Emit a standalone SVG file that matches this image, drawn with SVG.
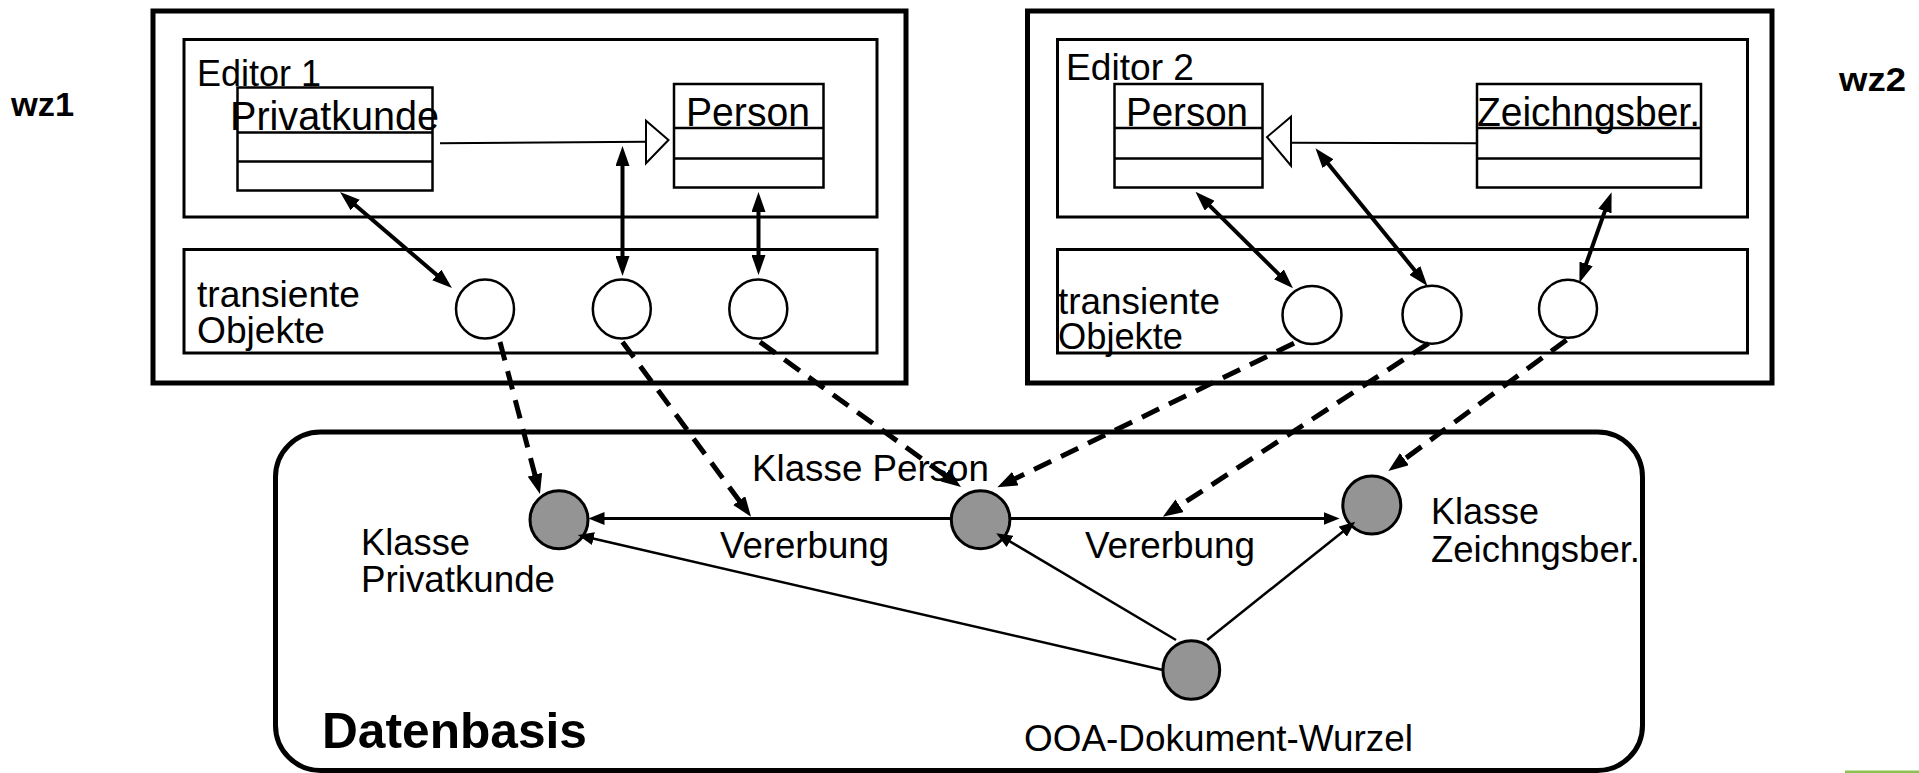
<svg xmlns="http://www.w3.org/2000/svg" width="1919" height="773" viewBox="0 0 1919 773">
  <style>
    text { font-family: "Liberation Sans", Arial, sans-serif; fill: #000; }
    .lbl { font-size: 37px; }
    .cls { font-size: 41px; }
    .bold { font-weight: bold; }
    .ws { fill: none; stroke: #000; stroke-width: 5; }
    .pane { fill: none; stroke: #000; stroke-width: 3; }
    .box { fill: #fff; stroke: #000; stroke-width: 2.5; }
    .sep { stroke: #000; stroke-width: 2.5; }
    .obj { fill: #fff; stroke: #000; stroke-width: 2.5; }
    .cobj { fill: #949494; stroke: #000; stroke-width: 3; }
    .link { fill: none; stroke: #000; stroke-width: 4; marker-start: url(#hb); marker-end: url(#hb); }
    .map { fill: none; stroke: #000; stroke-width: 5; stroke-dasharray: 19 11; marker-end: url(#hd); }
    .inh { fill: none; stroke: #000; stroke-width: 3; marker-end: url(#hs); }
    .ref { fill: none; stroke: #000; stroke-width: 2.5; marker-end: url(#hs); }
    .gen { fill: none; stroke: #000; stroke-width: 2; }
    .tri { fill: #fff; stroke: #000; stroke-width: 2; stroke-linejoin: miter; }
  </style>
  <defs>
    <marker id="hb" markerUnits="userSpaceOnUse" markerWidth="20" markerHeight="14" refX="9" refY="7" orient="auto-start-reverse">
      <path d="M0,0 L20,7 L0,14 z" fill="#000"/>
    </marker>
    <marker id="hd" markerUnits="userSpaceOnUse" markerWidth="20" markerHeight="15" refX="8" refY="7.5" orient="auto">
      <path d="M0,0 L20,7.5 L0,15 z" fill="#000"/>
    </marker>
    <marker id="hs" markerUnits="userSpaceOnUse" markerWidth="16" markerHeight="13" refX="6" refY="6.5" orient="auto">
      <path d="M0,0 L16,6.5 L0,13 z" fill="#000"/>
    </marker>
  </defs>

  <rect width="1919" height="773" fill="#fff"/>

  <!-- workstation labels -->
  <text id="wz1" class="bold" x="11" y="116" font-size="34" textLength="63" lengthAdjust="spacingAndGlyphs">wz1</text>
  <text id="wz2" class="bold" x="1839" y="91" font-size="34" textLength="67" lengthAdjust="spacingAndGlyphs">wz2</text>

  <!-- workstation 1 -->
  <g id="ws1">
    <rect class="ws" x="153" y="11" width="753" height="372"/>
    <g id="editor1">
      <rect class="pane" x="184" y="39.5" width="693" height="177.5"/>
      <text x="197" y="86" font-size="37" textLength="124" lengthAdjust="spacingAndGlyphs">Editor 1</text>
    </g>
    <g id="transient1">
      <rect class="pane" x="184" y="249.5" width="693" height="103.5"/>
      <text class="lbl" x="197" y="307" textLength="163" lengthAdjust="spacingAndGlyphs">transiente</text>
      <text class="lbl" x="197" y="343" textLength="128" lengthAdjust="spacingAndGlyphs">Objekte</text>
    </g>
  </g>

  <g id="cls-privatkunde-1">
    <rect class="box" x="237.5" y="87.5" width="195" height="103"/>
    <line class="sep" x1="237.5" y1="132.5" x2="432.5" y2="132.5"/>
    <line class="sep" x1="237.5" y1="161.5" x2="432.5" y2="161.5"/>
    <text class="cls" x="230" y="130" textLength="209" lengthAdjust="spacingAndGlyphs">Privatkunde</text>
  </g>
  <g id="cls-person-1">
    <rect class="box" x="674" y="84" width="149.5" height="103.5"/>
    <line class="sep" x1="674" y1="128" x2="823.5" y2="128"/>
    <line class="sep" x1="674" y1="158.5" x2="823.5" y2="158.5"/>
    <text class="cls" x="686" y="126" textLength="124" lengthAdjust="spacingAndGlyphs">Person</text>
  </g>

  <g id="tobj-1a"><ellipse class="obj" cx="485" cy="309" rx="29" ry="29.5"/></g>
  <g id="tobj-1b"><ellipse class="obj" cx="621.8" cy="309" rx="29" ry="29.5"/></g>
  <g id="tobj-1c"><ellipse class="obj" cx="758.3" cy="309" rx="29" ry="29.5"/></g>

  <!-- workstation 2 -->
  <g id="ws2">
    <rect class="ws" x="1027.5" y="11" width="744.5" height="372"/>
    <g id="editor2">
      <rect class="pane" x="1057.5" y="39.5" width="690" height="177.5"/>
      <text x="1066" y="80" font-size="37" textLength="128" lengthAdjust="spacingAndGlyphs">Editor 2</text>
    </g>
    <g id="transient2">
      <rect class="pane" x="1057.5" y="249.5" width="690" height="103.5"/>
      <text class="lbl" x="1058" y="314" textLength="162" lengthAdjust="spacingAndGlyphs">transiente</text>
      <text class="lbl" x="1058" y="349" textLength="125" lengthAdjust="spacingAndGlyphs">Objekte</text>
    </g>
  </g>

  <g id="cls-person-2">
    <rect class="box" x="1114.5" y="84" width="148" height="103.5"/>
    <line class="sep" x1="1114.5" y1="128" x2="1262.5" y2="128"/>
    <line class="sep" x1="1114.5" y1="158.5" x2="1262.5" y2="158.5"/>
    <text class="cls" x="1126" y="126" textLength="122" lengthAdjust="spacingAndGlyphs">Person</text>
  </g>
  <g id="cls-zeichngsber-2">
    <rect class="box" x="1477" y="84" width="224" height="103.5"/>
    <line class="sep" x1="1477" y1="128" x2="1701" y2="128"/>
    <line class="sep" x1="1477" y1="158.5" x2="1701" y2="158.5"/>
    <text class="cls" x="1477" y="126" textLength="223" lengthAdjust="spacingAndGlyphs">Zeichngsber.</text>
  </g>

  <g id="tobj-2a"><ellipse class="obj" cx="1312" cy="315" rx="29.5" ry="29"/></g>
  <g id="tobj-2b"><ellipse class="obj" cx="1432" cy="314.7" rx="29.5" ry="29"/></g>
  <g id="tobj-2c"><ellipse class="obj" cx="1568" cy="308.8" rx="29" ry="29"/></g>

  <!-- database -->
  <g id="datenbasis">
    <rect class="ws" x="275.5" y="432" width="1367" height="338.5" rx="45" ry="45"/>
    <text class="bold" x="322" y="748" font-size="50" textLength="265" lengthAdjust="spacingAndGlyphs">Datenbasis</text>
  </g>

  <g id="db-privatkunde">
    <ellipse class="cobj" cx="559" cy="519.8" rx="29" ry="29"/>
    <text class="lbl" x="361" y="555" textLength="109" lengthAdjust="spacingAndGlyphs">Klasse</text>
    <text class="lbl" x="361" y="592" textLength="194" lengthAdjust="spacingAndGlyphs">Privatkunde</text>
  </g>
  <g id="db-person">
    <ellipse class="cobj" cx="980.6" cy="519.8" rx="29.3" ry="29"/>
    <text class="lbl" x="752" y="481" textLength="237" lengthAdjust="spacingAndGlyphs">Klasse Person</text>
  </g>
  <g id="db-zeichngsber">
    <ellipse class="cobj" cx="1371.8" cy="505" rx="29" ry="29"/>
    <text class="lbl" x="1431" y="524" textLength="108" lengthAdjust="spacingAndGlyphs">Klasse</text>
    <text class="lbl" x="1431" y="562" textLength="209" lengthAdjust="spacingAndGlyphs">Zeichngsber.</text>
  </g>
  <g id="db-root">
    <ellipse class="cobj" cx="1191.3" cy="670" rx="28.4" ry="29.3"/>
    <text class="lbl" x="1024" y="751" textLength="389" lengthAdjust="spacingAndGlyphs">OOA-Dokument-Wurzel</text>
  </g>

  <!-- connectors -->
  <g id="connectors">
    <!-- generalisation in the editors -->
    <line class="gen" x1="440" y1="143.3" x2="646" y2="141.7"/>
    <polygon class="tri" points="646,120.7 646,163.3 668.5,140"/>
    <line class="gen" x1="1477" y1="143.3" x2="1291" y2="142.7"/>
    <polygon class="tri" points="1291,116.7 1291,165.7 1267,137"/>

    <!-- editor element <-> transient object -->
    <line class="link" x1="348.4" y1="199.2" x2="443.6" y2="280.8"/>
    <line class="link" x1="622.5" y1="157" x2="622.5" y2="265"/>
    <line class="link" x1="758.5" y1="203" x2="758.5" y2="264"/>
    <line class="link" x1="1203.3" y1="199.4" x2="1285.2" y2="280.6"/>
    <line class="link" x1="1322.4" y1="156.8" x2="1420.5" y2="277.4"/>
    <line class="link" x1="1607.9" y1="202.6" x2="1583.1" y2="272.4"/>

    <!-- transient object -> persistent object -->
    <line class="map" x1="500" y1="342" x2="536.9" y2="482.4"/>
    <line class="map" x1="622.5" y1="342" x2="743.9" y2="507"/>
    <line class="map" x1="760" y1="342" x2="951.3" y2="480"/>
    <line class="map" x1="1294" y1="343.3" x2="1008.2" y2="482.1"/>
    <line class="map" x1="1428.6" y1="343.3" x2="1172.9" y2="510.1"/>
    <line class="map" x1="1566.5" y1="340" x2="1398" y2="463.9"/>

    <!-- inheritance in the database -->
    <line class="inh" x1="951.5" y1="518.5" x2="598.5" y2="518.5"/>
    <text class="lbl" x="720" y="558" textLength="169" lengthAdjust="spacingAndGlyphs">Vererbung</text>
    <line class="inh" x1="1010" y1="518.5" x2="1329.6" y2="518.5"/>
    <text class="lbl" x="1085" y="558" textLength="170" lengthAdjust="spacingAndGlyphs">Vererbung</text>

    <!-- root references -->
    <line class="ref" x1="1162.9" y1="670" x2="587.6" y2="537.2"/>
    <line class="ref" x1="1176" y1="640" x2="1004.8" y2="538.4"/>
    <line class="ref" x1="1207.2" y1="640" x2="1347.4" y2="527.9"/>
  </g>

  <rect x="1845" y="770.5" width="74" height="2.5" fill="#8dc153"/>
</svg>
